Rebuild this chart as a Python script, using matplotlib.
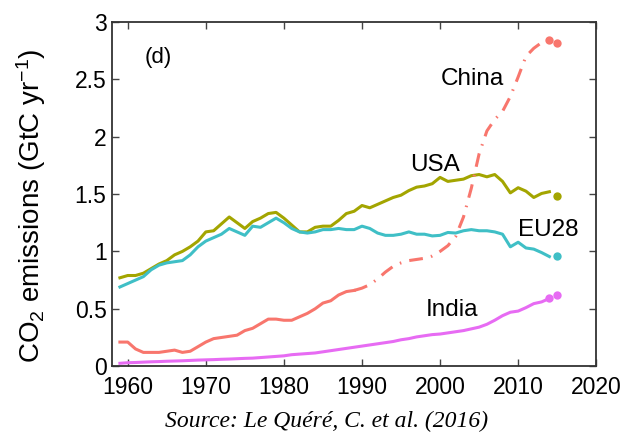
import matplotlib
matplotlib.use("Agg")
import matplotlib.pyplot as plt

plt.rcParams["font.family"] = ["Liberation Sans", "DejaVu Sans"]
plt.rcParams["mathtext.fontset"] = "custom"
plt.rcParams["mathtext.rm"] = "Liberation Sans"
plt.rcParams["mathtext.it"] = "Liberation Sans"

years = list(range(1959, 2015))

usa = [0.77, 0.79, 0.79, 0.81, 0.85, 0.89, 0.92, 0.97, 1.00, 1.04,
       1.09, 1.17, 1.18, 1.24, 1.30, 1.25, 1.20, 1.26, 1.29, 1.33,
       1.34, 1.29, 1.23, 1.17, 1.17, 1.21, 1.22, 1.22, 1.27, 1.33,
       1.35, 1.40, 1.38, 1.41, 1.44, 1.47, 1.49, 1.53, 1.56, 1.57,
       1.59, 1.645, 1.61, 1.62, 1.63, 1.66, 1.67, 1.65, 1.67, 1.61,
       1.51, 1.555, 1.525, 1.47, 1.505, 1.52]
eu28 = [0.69, 0.72, 0.75, 0.78, 0.84, 0.88, 0.90, 0.91, 0.92, 0.97,
        1.04, 1.09, 1.12, 1.15, 1.20, 1.17, 1.14, 1.22, 1.21, 1.25,
        1.29, 1.25, 1.20, 1.17, 1.16, 1.17, 1.19, 1.19, 1.20, 1.19,
        1.19, 1.22, 1.20, 1.16, 1.14, 1.14, 1.15, 1.17, 1.15, 1.15,
        1.135, 1.14, 1.165, 1.16, 1.18, 1.19, 1.18, 1.18, 1.17, 1.15,
        1.04, 1.08, 1.03, 1.02, 0.99, 0.955]
china = [0.21, 0.21, 0.15, 0.12, 0.12, 0.12, 0.13, 0.14, 0.12, 0.13,
         0.17, 0.21, 0.24, 0.25, 0.26, 0.27, 0.31, 0.33, 0.37, 0.41,
         0.41, 0.40, 0.40, 0.43, 0.46, 0.50, 0.55, 0.57, 0.62, 0.65,
         0.66, 0.68, 0.71, 0.76, 0.82, 0.87, 0.90, 0.92, 0.93, 0.94,
         0.96, 1.00, 1.05, 1.13, 1.30, 1.55, 1.85, 2.05, 2.15, 2.22,
         2.35, 2.52, 2.70, 2.77, 2.82, 2.84]
india = [0.025, 0.03, 0.032, 0.035, 0.038, 0.04, 0.043, 0.045, 0.047, 0.05,
         0.053, 0.055, 0.057, 0.06, 0.062, 0.065, 0.068, 0.07, 0.075, 0.08,
         0.085, 0.09, 0.10, 0.105, 0.11, 0.115, 0.125, 0.135, 0.145, 0.155,
         0.165, 0.175, 0.185, 0.195, 0.205, 0.215, 0.23, 0.24, 0.255, 0.265,
         0.275, 0.28, 0.29, 0.30, 0.31, 0.325, 0.34, 0.365, 0.40, 0.44,
         0.47, 0.48, 0.51, 0.545, 0.56, 0.59]

# end-of-series dots (2014 data / 2015 projection)
usa_dots = ([2015], [1.48])
eu28_dots = ([2015], [0.96])
china_dots = ([2014, 2015], [2.84, 2.82])
india_dots = ([2014, 2015], [0.59, 0.62])
china_solid_end = 1989

c_usa = "#a3a500"
c_eu = "#3fbfc6"
c_china = "#f8766d"
c_india = "#e76bf3"

fig = plt.figure(figsize=(6.37, 4.38), dpi=100)
ax = fig.add_axes([0.176, 0.164, 0.760, 0.786])

lw = 2.2
ax.plot(years, usa, color=c_usa, lw=lw)
ax.plot(years, eu28, color=c_eu, lw=lw)
n = years.index(china_solid_end) + 1
ax.plot(years[:n], china[:n], color=c_china, lw=lw)
ax.plot(years[n - 1:], china[n - 1:], color=c_china, lw=lw,
        linestyle=(0, (4.5, 2.7, 0.5, 2.7)))
ax.plot(years, india, color=c_india, lw=lw)

for (dx, dy), c in [(usa_dots, c_usa), (eu28_dots, c_eu),
                    (china_dots, c_china), (india_dots, c_india)]:
    ax.plot(dx, dy, "o", color=c, ms=6, mec="none")

fs = 17.5
ax.text(2004.2, 2.50, "China", fontsize=fs, ha="center", va="center")
ax.text(1999.3, 1.755, "USA", fontsize=fs, ha="center", va="center")
ax.text(2013.8, 1.19, "EU28", fontsize=fs, ha="center", va="center")
ax.text(2001.5, 0.49, "India", fontsize=fs, ha="center", va="center")
ax.text(1963.9, 2.69, "(d)", fontsize=16, ha="center", va="center")

ax.set_xlim(1958, 2020)
ax.set_ylim(0, 3)
ax.set_xticks([1960, 1970, 1980, 1990, 2000, 2010, 2020])
ax.set_yticks([0, 0.5, 1, 1.5, 2, 2.5, 3])
ax.set_yticklabels(["0", "0.5", "1", "1.5", "2", "2.5", "3"])
ax.tick_params(direction="in", top=True, right=True, length=5, width=1,
               labelsize=16.5, color="#444444", pad=4)
ax.tick_params(axis="x", pad=7)
for s in ax.spines.values():
    s.set_linewidth(1.3)
    s.set_color("#333333")

ax.set_ylabel(r"CO$_2$ emissions (GtC yr$^{-1}$)", fontsize=20)
ax.yaxis.set_label_coords(-0.132, 0.465)

fig.text(0.512, 0.037, "Source: Le Quéré, C. et al. (2016)",
         family=["Liberation Serif", "DejaVu Serif"], style="italic",
         fontsize=17, ha="center", va="center")

fig.savefig("out.png", dpi=100)
